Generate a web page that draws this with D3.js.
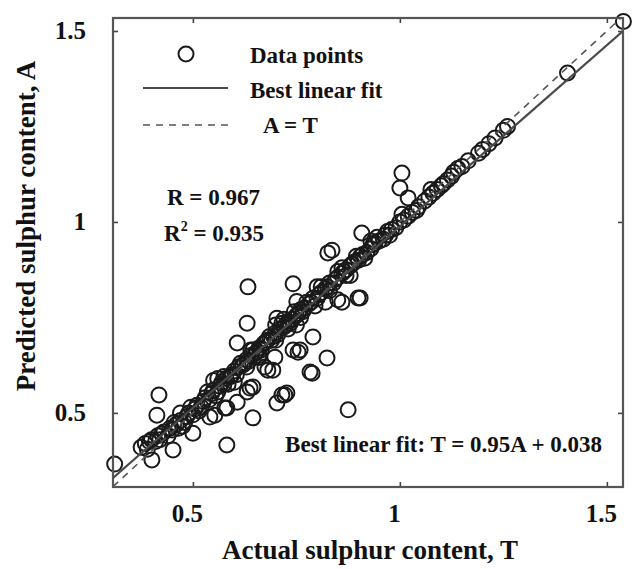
<!DOCTYPE html>
<html>
<head>
<meta charset="utf-8">
<script src="https://cdn.jsdelivr.net/npm/d3@7"></script>
<style>
  body { margin: 0; background: #fff; }
  svg text { font-family: "Liberation Serif", "Times New Roman", serif; font-weight: bold; fill: #111; }
</style>
</head>
<body>
<div id="chart"></div>
<script>
// actual (T) vs predicted (A) sulphur content
const actual = [
  0.311, 0.418, 0.413, 0.401, 0.452, 0.50, 0.541, 0.582, 0.582, 0.645, 0.703, 0.722,
  0.645, 0.693, 0.631, 0.633, 0.742, 0.607, 0.79, 0.788, 0.754, 0.742, 0.698, 0.703, 0.751,
  0.899, 0.86, 0.824, 0.875, 0.826, 0.85, 0.904, 0.674, 0.638, 0.681, 0.783, 0.715, 0.607,
  0.577, 0.553, 0.631, 1.005, 1.0, 1.02, 0.908, 0.836, 0.727, 0.759,
  // dense band along the diagonal
  0.375, 0.385, 0.39, 0.40, 0.41, 0.415, 0.42, 0.43, 0.44, 0.445, 0.45, 0.46, 0.465, 0.47,
  0.48, 0.485, 0.49, 0.50, 0.505, 0.51, 0.52, 0.525, 0.53, 0.54, 0.545, 0.55, 0.56, 0.565,
  0.57, 0.575, 0.58, 0.59, 0.595, 0.60, 0.605, 0.61, 0.62, 0.625, 0.63, 0.635, 0.64, 0.65,
  0.655, 0.66, 0.665, 0.67, 0.675, 0.68, 0.69, 0.695, 0.70, 0.705, 0.71, 0.72, 0.725, 0.73,
  0.735, 0.74, 0.75, 0.755, 0.76, 0.765, 0.77, 0.78, 0.785, 0.79, 0.80, 0.805, 0.81, 0.82,
  0.825, 0.83, 0.84, 0.845, 0.85, 0.86, 0.865, 0.87, 0.88, 0.885, 0.89, 0.90, 0.905, 0.91,
  0.92, 0.93, 0.935, 0.94, 0.95, 0.96, 0.965, 0.97, 0.98, 0.99, 1.00, 1.01, 1.02, 1.03,
  1.045, 1.06, 1.07, 1.08, 1.09, 1.10, 1.115, 1.125, 1.14, 1.15, 1.165, 1.19, 1.20, 1.215,
  1.23, 1.25, 1.26, 1.405, 1.54,
  0.395, 0.425, 0.455, 0.475, 0.495, 0.515, 0.535, 0.555, 0.575, 0.585, 0.615, 0.63, 0.645,
  0.66, 0.685, 0.70, 0.715, 0.73, 0.745, 0.76, 0.775, 0.795, 0.81, 0.83, 0.85, 0.87, 0.895,
  0.915, 0.945, 0.975, 1.005, 1.04, 1.075, 1.105, 1.13,
  // points just off the band
  0.47, 0.55, 0.60, 0.66, 0.70, 0.75, 0.80, 0.82, 0.88, 0.93, 0.56, 0.64, 0.72, 0.86
];
const predicted = [
  0.366, 0.547, 0.494, 0.377, 0.403, 0.447, 0.489, 0.513, 0.416, 0.487, 0.526, 0.547,
  0.568, 0.612, 0.735, 0.830, 0.838, 0.683, 0.699, 0.604, 0.659, 0.665, 0.646, 0.748, 0.792,
  0.801, 0.790, 0.644, 0.508, 0.919, 0.796, 0.801, 0.620, 0.565, 0.612, 0.607, 0.547, 0.528,
  0.513, 0.494, 0.555, 1.128, 1.089, 1.063, 0.971, 0.926, 0.552, 0.665,
  0.41, 0.42, 0.405, 0.43, 0.425, 0.44, 0.43, 0.45, 0.44, 0.46, 0.455, 0.47, 0.46, 0.48,
  0.475, 0.49, 0.50, 0.495, 0.51, 0.52, 0.515, 0.53, 0.54, 0.535, 0.55, 0.56, 0.555, 0.57,
  0.58, 0.575, 0.59, 0.595, 0.60, 0.61, 0.60, 0.62, 0.625, 0.63, 0.64, 0.635, 0.65, 0.655,
  0.66, 0.67, 0.665, 0.68, 0.685, 0.69, 0.69, 0.70, 0.71, 0.705, 0.72, 0.725, 0.73, 0.74,
  0.735, 0.745, 0.755, 0.76, 0.77, 0.765, 0.775, 0.785, 0.79, 0.80, 0.80, 0.81, 0.815, 0.825,
  0.83, 0.84, 0.84, 0.85, 0.855, 0.865, 0.87, 0.875, 0.885, 0.89, 0.895, 0.90, 0.91, 0.915,
  0.92, 0.93, 0.94, 0.945, 0.95, 0.955, 0.965, 0.975, 0.98, 0.985, 1.00, 1.005, 1.015, 1.025,
  1.04, 1.055, 1.065, 1.075, 1.085, 1.095, 1.11, 1.12, 1.14, 1.145, 1.16, 1.18, 1.19, 1.205,
  1.22, 1.24, 1.25, 1.39, 1.525,
  0.425, 0.445, 0.475, 0.465, 0.515, 0.505, 0.555, 0.545, 0.595, 0.575, 0.63, 0.62, 0.665,
  0.65, 0.70, 0.69, 0.735, 0.72, 0.765, 0.75, 0.79, 0.78, 0.83, 0.82, 0.87, 0.86, 0.91,
  0.905, 0.96, 0.965, 1.02, 1.03, 1.085, 1.10, 1.13,
  0.50, 0.585, 0.58, 0.645, 0.73, 0.73, 0.83, 0.79, 0.86, 0.95, 0.59, 0.665, 0.745, 0.88
];
const tickValues = [0.5, 1, 1.5];
const fitSlope = 0.95, fitIntercept = 0.038;
const legendLabels = ["Data points", "Best linear fit", "A = T"];

const width = 635, height = 569;
const margin = {top: 18, right: 12, bottom: 82, left: 113};

const svg = d3.select("#chart").append("svg")
    .attr("width", width)
    .attr("height", height);

const x = d3.scaleLinear().domain([0.307, 1.539]).range([margin.left, width - margin.right]);
const y = d3.scaleLinear().domain([0.306, 1.534]).range([height - margin.bottom, margin.top]);

const plot = svg.append("g");

// clip so lines stay inside the frame
svg.append("clipPath").attr("id", "clip")
  .append("rect")
    .attr("x", margin.left).attr("y", margin.top)
    .attr("width", width - margin.left - margin.right)
    .attr("height", height - margin.top - margin.bottom);

const pts = actual.map((t, i) => ({t, a: predicted[i]}));

plot.append("g")
    .attr("fill", "none")
    .attr("stroke", "#1a1a1a")
    .attr("stroke-width", 2)
  .selectAll("circle")
  .data(pts)
  .join("circle")
    .attr("cx", d => x(d.t))
    .attr("cy", d => y(d.a))
    .attr("r", 7.5);

const lines = plot.append("g").attr("clip-path", "url(#clip)");
const xd = x.domain();

lines.append("line")
    .attr("x1", x(xd[0])).attr("y1", y(xd[0]))
    .attr("x2", x(xd[1])).attr("y2", y(xd[1]))
    .attr("stroke", "#555")
    .attr("stroke-width", 1.6)
    .attr("stroke-dasharray", "7,6");

lines.append("line")
    .attr("x1", x(xd[0])).attr("y1", y(fitSlope * xd[0] + fitIntercept))
    .attr("x2", x(xd[1])).attr("y2", y(fitSlope * xd[1] + fitIntercept))
    .attr("stroke", "#4a4a4a")
    .attr("stroke-width", 2.2);

// axes: ticks point inward on all four sides
const axBottom = svg.append("g")
    .attr("transform", `translate(0,${height - margin.bottom})`)
    .call(d3.axisBottom(x).tickValues(tickValues).tickFormat(d3.format("")).tickSizeInner(-5).tickSizeOuter(0).tickPadding(17));
const axLeft = svg.append("g")
    .attr("transform", `translate(${margin.left},0)`)
    .call(d3.axisLeft(y).tickValues(tickValues).tickFormat(d3.format("")).tickSizeInner(-5).tickSizeOuter(0).tickPadding(27));
const axTop = svg.append("g")
    .attr("transform", `translate(0,${margin.top})`)
    .call(d3.axisTop(x).tickValues(tickValues).tickFormat("").tickSizeInner(-5).tickSizeOuter(0));
const axRight = svg.append("g")
    .attr("transform", `translate(${width - margin.right},0)`)
    .call(d3.axisRight(y).tickValues(tickValues).tickFormat("").tickSizeInner(-5).tickSizeOuter(0));

[axBottom, axLeft, axTop, axRight].forEach(g => {
  g.select(".domain").remove();
  g.selectAll(".tick line").attr("stroke", "#444").attr("stroke-width", 1.6);
  g.selectAll(".tick text")
      .attr("font-family", null)
      .attr("font-size", 25)
      .attr("fill", "#111");
});
axBottom.selectAll(".tick text").attr("dx", -6);

svg.append("rect")
    .attr("x", margin.left).attr("y", margin.top)
    .attr("width", width - margin.left - margin.right)
    .attr("height", height - margin.top - margin.bottom)
    .attr("fill", "none")
    .attr("stroke", "#555")
    .attr("stroke-width", 2.2);

// axis titles
svg.append("text")
    .attr("x", 370).attr("y", 559)
    .attr("text-anchor", "middle")
    .attr("font-size", 27)
    .text("Actual sulphur content, T");

svg.append("text")
    .attr("transform", "translate(35,226) rotate(-90)")
    .attr("text-anchor", "middle")
    .attr("font-size", 27)
    .text("Predicted sulphur content, A");

// legend
const legend = svg.append("g");
legend.append("circle")
    .attr("cx", 186).attr("cy", 54).attr("r", 7.5)
    .attr("fill", "none").attr("stroke", "#1a1a1a").attr("stroke-width", 2);
legend.append("line")
    .attr("x1", 143).attr("x2", 228).attr("y1", 88).attr("y2", 88)
    .attr("stroke", "#4a4a4a").attr("stroke-width", 2.2);
legend.append("line")
    .attr("x1", 143).attr("x2", 228).attr("y1", 125).attr("y2", 125)
    .attr("stroke", "#555").attr("stroke-width", 1.6).attr("stroke-dasharray", "7,6");
legend.selectAll("text")
  .data(legendLabels)
  .join("text")
    .attr("x", (d, i) => i === 2 ? 263 : 250)
    .attr("y", (d, i) => [63, 98, 133][i])
    .attr("font-size", 23)
    .text(d => d);

// statistics
svg.append("text")
    .attr("x", 167).attr("y", 205)
    .attr("font-size", 23)
    .text("R = 0.967");
const r2 = svg.append("text")
    .attr("x", 164).attr("y", 241)
    .attr("font-size", 23);
r2.append("tspan").text("R");
r2.append("tspan").attr("dy", -10).attr("font-size", 14).text("2");
r2.append("tspan").attr("dy", 10).text(" = 0.935");

svg.append("text")
    .attr("x", 602).attr("y", 452)
    .attr("text-anchor", "end")
    .attr("font-size", 23)
    .text("Best linear fit: T = 0.95A + 0.038");
</script>
</body>
</html>
